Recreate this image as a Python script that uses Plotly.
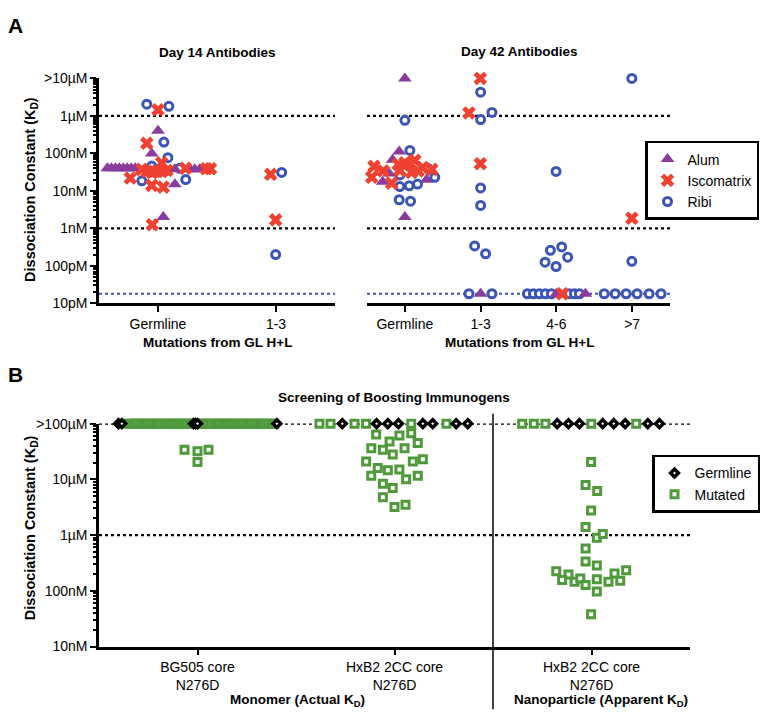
import plotly.graph_objects as go

# ====================== DATA ======================
# Panel A  (x = mutation group index + swarm offset, kd in molar)
d14_groups = ["Germline", "1-3"]
d42_groups = ["Germline", "1-3", "4-6", ">7"]
kd_ticks_a = [1e-5, 1e-6, 1e-7, 1e-8, 1e-9, 1e-10, 1e-11]
kd_ticktext_a = [">10µM", "1µM", "100nM", "10nM", "1nM", "100pM", "10pM"]
a_black_lines = [1e-6, 1e-9]
a_blue_line = 1.8e-11

d14_alum_x = [-0.429, -0.395, -0.361, -0.328, -0.294, -0.261, -0.227, -0.193,
              0.143, 0.269, 0.311, 0.353, -0.053, 0.0, 0.143, 0.045]
d14_alum_kd = [4.0e-8, 4.0e-8, 4.0e-8, 4.0e-8, 4.0e-8, 4.0e-8, 4.0e-8, 4.0e-8,
               3.8e-8, 3.8e-8, 3.8e-8, 3.8e-8, 1.0e-7, 4.0e-7, 1.5e-8, 2.0e-9]

d14_isco_x = [0.0, -0.095, 0.031, -0.137, -0.092, -0.050, -0.008, 0.034, 0.076,
              0.233, 0.409, 0.445, -0.235, -0.053, 0.045, -0.048, 0.955, 0.997]
d14_isco_kd = [1.46e-6, 1.86e-7, 5.6e-8, 3.75e-8, 3.3e-8, 3.1e-8, 3.3e-8, 3.3e-8, 3.5e-8,
               4.0e-8, 3.9e-8, 3.9e-8, 2.2e-8, 1.4e-8, 1.26e-8, 1.25e-9, 2.77e-8, 1.68e-9]

d14_ribi_x = [-0.095, 0.092, 0.050, 0.084, -0.053, 0.185, -0.137, 0.235, 1.048, 0.997]
d14_ribi_kd = [2.06e-6, 1.8e-6, 2.0e-7, 7.7e-8, 4.6e-8, 4.0e-8, 1.86e-8, 2.0e-8, 3.1e-8, 2.0e-10]

d42_alum_x = [0.0, -0.075, -0.162, -0.207, -0.293, 0.286, 0.0, 1.0, 2.0, 2.382]
d42_alum_kd = [1e-5, 1.12e-7, 6.8e-8, 2.9e-8, 1.75e-8, 1.97e-8, 2.0e-9, 1.8e-11, 1.8e-11, 1.8e-11]

d42_isco_x = [-0.408, -0.438, -0.286, -0.175, -0.088, 0.0, 0.066, 0.132, 0.088, 0.175,
              0.237, 0.355, -0.066, 0.996, 0.846, 0.996, 2.079, 2.996]
d42_isco_kd = [4.5e-8, 2.3e-8, 3.4e-8, 1.6e-8, 5.1e-8, 5.6e-8, 5.1e-8, 6.5e-8, 3.1e-8, 3.4e-8,
               4.2e-8, 3.75e-8, 3.5e-8, 1e-5, 1.2e-6, 5.3e-8, 1.8e-11, 1.86e-9]

d42_ribi_x = [0.0, 0.066, -0.066, 0.303, 0.395, -0.066, 0.057, 0.167, -0.075, 0.075,
              1.0, 1.149, 1.0, 1.0, 1.0, 0.921, 1.066, 0.846, 1.149,
              1.996, 2.070, 1.921, 2.149, 1.851, 1.996,
              1.618, 1.697, 1.776, 1.855, 1.934, 2.171, 2.237, 2.303,
              2.996, 2.996, 2.632, 2.776, 2.921, 3.066, 3.224, 3.382]
d42_ribi_kd = [7.6e-7, 1.2e-7, 2.66e-8, 4.0e-8, 2.3e-8, 1.3e-8, 1.37e-8, 1.52e-8, 5.8e-9, 5.3e-9,
               4.3e-6, 1.24e-6, 8e-7, 1.2e-8, 4.1e-9, 3.4e-10, 2.1e-10, 1.8e-11, 1.8e-11,
               3.3e-8, 3.2e-10, 2.6e-10, 1.7e-10, 1.25e-10, 9.6e-11,
               1.8e-11, 1.8e-11, 1.8e-11, 1.8e-11, 1.8e-11, 1.8e-11, 1.8e-11, 1.8e-11,
               1e-5, 1.32e-10, 1.8e-11, 1.8e-11, 1.8e-11, 1.8e-11, 1.8e-11, 1.8e-11]

# Panel B
b_groups = ["BG505 core<br>N276D", "HxB2 2CC core<br>N276D", "HxB2 2CC core<br>N276D"]
kd_ticks_b = [1e-4, 1e-5, 1e-6, 1e-7, 1e-8]
kd_ticktext_b = [">100µM", "10µM", "1µM", "100nM", "10nM"]
b_dotted_lines = [1e-4, 1e-6]

bg505_gl_x = [-0.401, -0.384, -0.020, -0.010, 0.0, 0.403]
bg505_gl_kd = [1e-4, 1e-4, 1e-4, 1e-4, 1e-4, 1e-4]
hxb2_gl_x = [0.735, 0.909, 0.966, 1.020, 1.144, 1.194, 1.313, 1.372]
hxb2_gl_kd = [1e-4, 1e-4, 1e-4, 1e-4, 1e-4, 1e-4, 1e-4, 1e-4]
np_gl_x = [1.826, 1.883, 1.939, 2.057, 2.113, 2.171, 2.286, 2.345]
np_gl_kd = [1e-4, 1e-4, 1e-4, 1e-4, 1e-4, 1e-4, 1e-4, 1e-4]

bg505_mut_x = [-0.350, -0.336, -0.322, -0.308, -0.294, -0.280, -0.266, -0.252, -0.238, -0.224,
               -0.210, -0.196, -0.182, -0.168, -0.154, -0.140, -0.126, -0.112, -0.098, -0.084,
               -0.070, -0.056, -0.042, -0.028,
               0.010, 0.024, 0.038, 0.052, 0.066, 0.080, 0.094, 0.108, 0.122, 0.136,
               0.150, 0.164, 0.178, 0.192, 0.206, 0.220, 0.234, 0.248, 0.262, 0.276,
               0.290, 0.304, 0.318, 0.332, 0.346, 0.360, 0.374, 0.388,
               -0.066, 0.0, 0.056, 0.0]
bg505_mut_kd = [1e-4, 1e-4, 1e-4, 1e-4, 1e-4, 1e-4, 1e-4, 1e-4, 1e-4, 1e-4,
                1e-4, 1e-4, 1e-4, 1e-4, 1e-4, 1e-4, 1e-4, 1e-4, 1e-4, 1e-4,
                1e-4, 1e-4, 1e-4, 1e-4,
                1e-4, 1e-4, 1e-4, 1e-4, 1e-4, 1e-4, 1e-4, 1e-4, 1e-4, 1e-4,
                1e-4, 1e-4, 1e-4, 1e-4, 1e-4, 1e-4, 1e-4, 1e-4, 1e-4, 1e-4,
                1e-4, 1e-4, 1e-4, 1e-4, 1e-4, 1e-4, 1e-4, 1e-4,
                3.4e-5, 3.2e-5, 3.4e-5, 2.05e-5]

hxb2_mut_x = [0.619, 0.675, 0.797, 0.856, 1.085, 1.264,
              0.907, 1.025, 1.085, 0.975, 1.118, 0.882, 0.941, 1.051, 0.991, 1.093,
              1.144, 0.856, 0.915, 0.966, 1.025, 0.882, 1.059, 1.118, 0.941, 0.991,
              0.941, 1.0, 1.056]
hxb2_mut_kd = [1e-4, 1e-4, 1e-4, 1e-4, 1e-4, 1e-4,
               6.4e-5, 6.1e-5, 6.7e-5, 4.8e-5, 4.5e-5, 3.6e-5, 3.4e-5, 3.6e-5, 2.8e-5, 2.1e-5,
               2.3e-5, 2.1e-5, 1.6e-5, 1.46e-5, 1.5e-5, 1.16e-5, 1.0e-5, 1.16e-5, 8.3e-6, 7.0e-6,
               4.8e-6, 3.2e-6, 3.5e-6]

np_mut_x = [1.648, 1.707, 1.766, 1.999, 2.227,
            1.998, 1.970, 2.029, 1.998, 1.970, 2.027, 2.057, 1.970, 1.970, 2.027,
            1.821, 1.883, 1.851, 1.914, 1.943, 1.970, 2.027, 2.027, 2.086, 2.117,
            2.146, 2.176, 1.998]
np_mut_kd = [1e-4, 1e-4, 1e-4, 1e-4, 1e-4,
             2.05e-5, 7.9e-6, 6.2e-6, 2.75e-6, 1.4e-6, 9.0e-7, 1.05e-6, 5.75e-7, 3.36e-7, 2.86e-7,
             2.24e-7, 1.96e-7, 1.56e-7, 1.46e-7, 1.67e-7, 1.27e-7, 1.62e-7, 9.7e-8, 1.46e-7, 2.05e-7,
             1.52e-7, 2.33e-7, 3.8e-8]

# ====================== STYLE ======================
W, H = 764, 724
FONT = "Liberation Sans, Arial, sans-serif"
PURPLE = "#8B3A9E"
RED = "#F0402F"
BLUE = "#3A55B4"
GREEN = "#4E9A3A"


def px(x):
    return x / W


def py(y):
    return 1 - y / H


alum_m = dict(symbol="triangle-up", size=12, color=PURPLE, line=dict(width=0))
isco_m = dict(symbol="x", size=12, color=RED, line=dict(width=0))
ribi_m = dict(symbol="circle", size=8, color="white", line=dict(color=BLUE, width=3))
gl_m = dict(symbol="diamond", size=6, color="white", line=dict(color="black", width=3.5))
mut_m = dict(symbol="square", size=7, color="white", line=dict(color=GREEN, width=3))

fig = go.Figure()


def add(x, y, name, marker, xa, ya, legend, show, rank):
    fig.add_trace(go.Scatter(
        x=x, y=y, mode="markers", name=name, marker=marker,
        xaxis=xa, yaxis=ya, legend=legend, legendgroup=name,
        showlegend=show, legendrank=rank, cliponaxis=False, hoverinfo="skip"))


# Panel A (Ribi drawn first, Iscomatrix on top)
add(d14_ribi_x, d14_ribi_kd, "Ribi", ribi_m, "x", "y", "legend", True, 3)
add(d14_alum_x, d14_alum_kd, "Alum", alum_m, "x", "y", "legend", True, 1)
add(d14_isco_x, d14_isco_kd, "Iscomatrix", isco_m, "x", "y", "legend", True, 2)
add(d42_ribi_x, d42_ribi_kd, "Ribi", ribi_m, "x2", "y2", "legend", False, 3)
add(d42_alum_x, d42_alum_kd, "Alum", alum_m, "x2", "y2", "legend", False, 1)
add(d42_isco_x, d42_isco_kd, "Iscomatrix", isco_m, "x2", "y2", "legend", False, 2)

# Panel B
add(bg505_mut_x, bg505_mut_kd, "Mutated", mut_m, "x3", "y3", "legend2", True, 2)
add(hxb2_mut_x, hxb2_mut_kd, "Mutated", mut_m, "x3", "y3", "legend2", False, 2)
add(np_mut_x, np_mut_kd, "Mutated", mut_m, "x3", "y3", "legend2", False, 2)
add(bg505_gl_x, bg505_gl_kd, "Germline", gl_m, "x3", "y3", "legend2", True, 1)
add(hxb2_gl_x, hxb2_gl_kd, "Germline", gl_m, "x3", "y3", "legend2", False, 1)
add(np_gl_x, np_gl_kd, "Germline", gl_m, "x3", "y3", "legend2", False, 1)

tickfont = dict(family=FONT, size=14, color="black")
base_x = dict(showline=True, linecolor="black", linewidth=2.5, ticks="outside",
              tickcolor="black", tickwidth=2, ticklen=6, showgrid=False, zeroline=False,
              tickfont=tickfont, tickmode="array")


def minor_vals(lo, hi):
    return [m * 10.0 ** e for e in range(lo, hi) for m in range(2, 10)]


base_y = dict(type="log", showline=True, linecolor="black", linewidth=2.5, ticks="outside",
              tickcolor="black", tickwidth=2, ticklen=6, showgrid=False, zeroline=False,
              tickfont=tickfont, tickmode="array")

EPS = 0.0004
fig.update_layout(
    width=W, height=H, margin=dict(l=0, r=0, t=0, b=0), autosize=False,
    paper_bgcolor="white", plot_bgcolor="rgba(0,0,0,0)",
    font=dict(family=FONT, color="black"),
    xaxis=dict(base_x, domain=[px(99), px(335)], range=[-0.5, 1.5], anchor="y",
               tickvals=[0, 1], ticktext=d14_groups),
    yaxis=dict(base_y, domain=[py(302), py(72)], range=[-11 - EPS, -5 + EPS], anchor="x",
               tickvals=kd_ticks_a, ticktext=kd_ticktext_a,
               minor=dict(tickmode="array", tickvals=minor_vals(-11, -5), ticks="outside",
                          ticklen=3, tickwidth=1.5, tickcolor="black")),
    xaxis2=dict(base_x, domain=[px(367), px(670)], range=[-0.5, 3.5], anchor="y2",
                tickvals=[0, 1, 2, 3], ticktext=d42_groups),
    yaxis2=dict(type="log", domain=[py(302), py(72)], range=[-11 - EPS, -5 + EPS], anchor="x2",
                showline=False, showticklabels=False, ticks="", showgrid=False, zeroline=False),
    xaxis3=dict(base_x, domain=[px(99), px(690)], range=[-0.5, 2.5], anchor="y3",
                tickvals=[0, 1, 2], ticktext=b_groups),
    yaxis3=dict(base_y, domain=[py(653), py(425)], range=[-8 - EPS, -4 + EPS], anchor="x3",
                tickvals=kd_ticks_b, ticktext=kd_ticktext_b,
                minor=dict(tickmode="array", tickvals=minor_vals(-8, -4), ticks="outside",
                           ticklen=3, tickwidth=1.5, tickcolor="black")),
    legend=dict(x=px(645), y=py(136), xanchor="left", yanchor="top",
                bordercolor="black", borderwidth=2.5, bgcolor="white",
                font=dict(family=FONT, size=14, color="black"), tracegroupgap=0),
    legend2=dict(x=px(652), y=py(457), xanchor="left", yanchor="top",
                 bordercolor="black", borderwidth=2.5, bgcolor="white",
                 font=dict(family=FONT, size=14, color="black"), tracegroupgap=0),
)

shapes = []
for v in a_black_lines:
    for xa, ya in (("x", "y"), ("x2", "y2")):
        shapes.append(dict(type="line", xref=xa + " domain", yref=ya, x0=0, x1=1, y0=v, y1=v,
                           line=dict(color="black", width=2.4, dash="dot"), layer="below"))
for xa, ya in (("x", "y"), ("x2", "y2")):
    shapes.append(dict(type="line", xref=xa + " domain", yref=ya, x0=0, x1=1,
                       y0=a_blue_line, y1=a_blue_line,
                       line=dict(color=BLUE, width=2, dash="dot"), layer="below"))
for v in b_dotted_lines:
    shapes.append(dict(type="line", xref="x3 domain", yref="y3", x0=0, x1=1, y0=v, y1=v,
                       line=dict(color="black", width=2.4, dash="dot"), layer="below"))
shapes.append(dict(type="line", xref="x3", yref="paper", x0=1.5, x1=1.5,
                   y0=py(717), y1=py(415), line=dict(color="black", width=1.5)))
fig.update_layout(shapes=shapes)


def ann(text, x, y, size, bold=True, angle=0):
    fig.add_annotation(text=("<b>%s</b>" % text) if bold else text,
                       x=px(x), y=py(y), xref="paper", yref="paper",
                       xanchor="center", yanchor="middle", showarrow=False, textangle=angle,
                       font=dict(family=FONT, size=size, color="black"))


ann("A", 15, 18, 21)
ann("B", 15, 375, 21)
ann("Day 14 Antibodies", 217, 45, 13.5)
ann("Day 42 Antibodies", 519, 44, 13.5)
ann("Mutations from GL H+L", 217, 342, 13.5)
ann("Mutations from GL H+L", 519, 342, 13.5)
ann("Dissociation Constant (K<sub>D</sub>)", 31, 186, 14.5, angle=-90)
ann("Dissociation Constant (K<sub>D</sub>)", 31, 532, 14.5, angle=-90)
ann("Screening of Boosting Immunogens", 394, 398, 13.5)
ann("Monomer (Actual K<sub>D</sub>)", 297, 708, 13.5)
ann("Nanoparticle (Apparent K<sub>D</sub>)", 601, 708, 13.5)

fig.write_html("out.html", config={"displayModeBar": False},
               post_script="document.body.style.margin='0px';")
